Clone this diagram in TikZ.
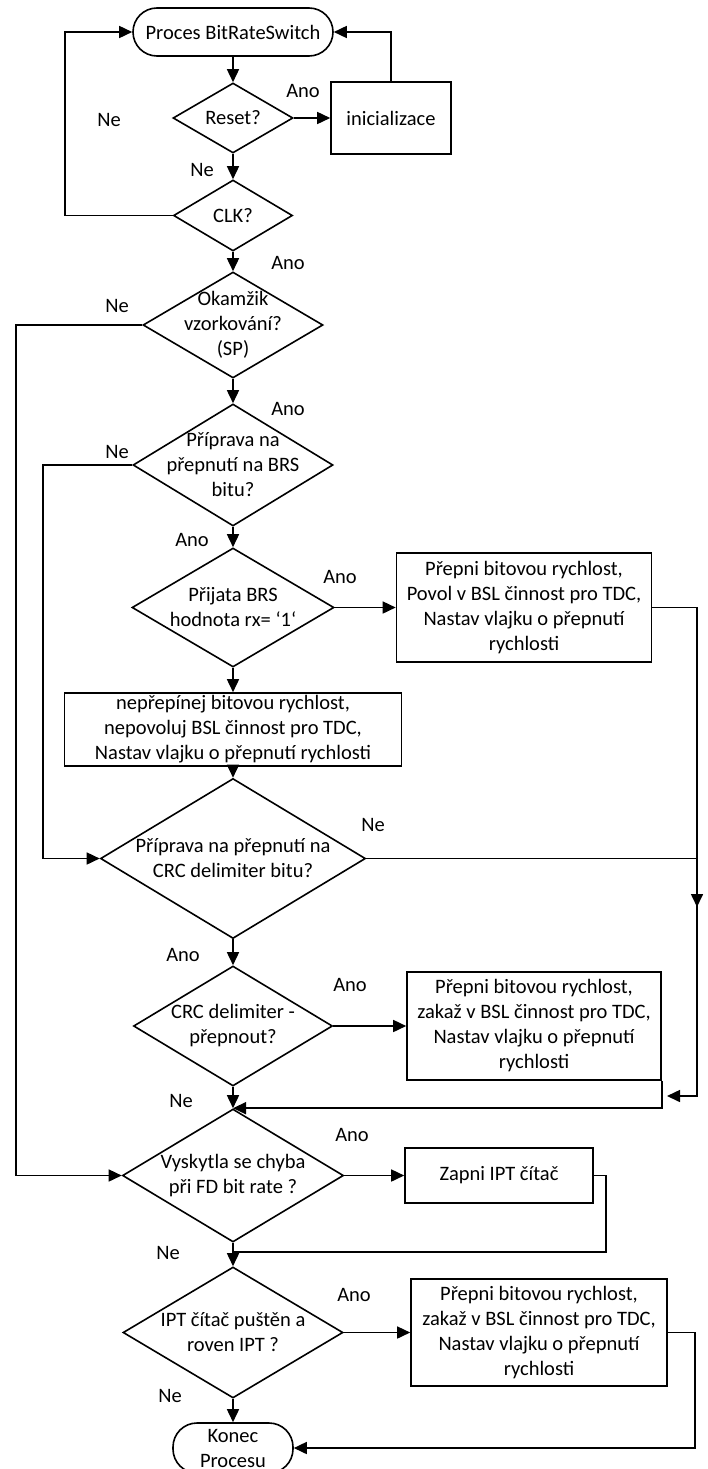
\documentclass[tikz,border=0pt]{standalone}
\usepackage{fontspec}
\setmainfont{Carlito}
\usetikzlibrary{arrows.meta,shapes.geometric}

\begin{document}
\begin{tikzpicture}[x=1pt, y=-1pt, line width=1.6pt,
    every node/.style={font=\fontsize{20.5}{25}\selectfont},
    term/.style={draw, rectangle, rounded corners=24pt, align=center, inner sep=0pt},
    box/.style={draw, rectangle, align=center, inner sep=0pt},
    decision/.style={draw, diamond, inner sep=0pt},
    dtext/.style={align=center, inner sep=0pt},
    arr/.style={-{Triangle[length=13pt,width=12pt]}},
    lbl/.style={inner sep=0pt}]
  \useasboundingbox (0,0) rectangle (707,1469);

  % Start and reset
  \node[term, minimum width=200pt, minimum height=48pt] (start) at (233,32) {Proces BitRateSwitch};
  \node[decision, minimum width=120pt, minimum height=70pt,
    label={[dtext]center:{Reset?}}] (reset) at (233,118) {};
  \node[box, minimum width=120pt, minimum height=72pt] (init) at (391,118) {inicializace};
  \node[decision, minimum width=119pt, minimum height=71pt,
    label={[dtext]center:{CLK?}}] (clk) at (233,215.5) {};

  % Sampling point and BRS bit
  \node[decision, minimum width=180pt, minimum height=106pt,
    label={[dtext]center:{Okamžik\\vzorkování?\\(SP)}}] (sample) at (233,325) {};
  \node[decision, minimum width=200pt, minimum height=122pt,
    label={[dtext]center:{Příprava na\\přepnutí na BRS\\bitu?}}] (brsprep) at (233,465) {};
  \node[decision, minimum width=202pt, minimum height=119pt,
    label={[dtext]center:{Přijata BRS\\hodnota rx= ‘1‘}}] (brsrx) at (233,607.5) {};
  \node[box, minimum width=255pt, minimum height=109pt] (sw1) at (524,607.5) {
    Přepni bitovou rychlost,\\
    Povol v BSL činnost pro TDC,\\
    Nastav vlajku o přepnutí\\
    rychlosti
  };
  \node[box, minimum width=337pt, minimum height=73pt] (keep) at (233,729.5) {
    nepřepínej bitovou rychlost,\\
    nepovoluj BSL činnost pro TDC,\\
    Nastav vlajku o přepnutí rychlosti
  };

  % CRC delimiter
  \node[decision, minimum width=265pt, minimum height=160pt,
    label={[dtext]center:{Příprava na přepnutí na\\CRC delimiter bitu?}}] (crcprep) at (233,858.5) {};
  \node[decision, minimum width=199pt, minimum height=120pt,
    label={[dtext]center:{CRC delimiter -\\přepnout?}}] (crcdel) at (233,1026) {};
  \node[box, minimum width=254pt, minimum height=108pt] (sw2) at (534,1026) {
    Přepni bitovou rychlost,\\
    zakaž v BSL činnost pro TDC,\\
    Nastav vlajku o přepnutí\\
    rychlosti
  };

  % Error and IPT
  \node[decision, minimum width=221pt, minimum height=133pt,
    label={[dtext]center:{Vyskytla se chyba\\při FD bit rate ?}}] (err) at (233,1175.5) {};
  \node[box, minimum width=188pt, minimum height=55pt] (ipton) at (499,1175.5) {Zapni IPT čítač};
  \node[decision, minimum width=220pt, minimum height=131pt,
    label={[dtext]center:{IPT čítač puštěn a\\roven IPT ?}}] (ipt) at (233,1332.5) {};
  \node[box, minimum width=256pt, minimum height=107pt] (sw3) at (539,1332.5) {
    Přepni bitovou rychlost,\\
    zakaž v BSL činnost pro TDC,\\
    Nastav vlajku o přepnutí\\
    rychlosti
  };
  \node[term, minimum width=120pt, minimum height=50pt] (stop) at (233,1448) {Konec\\Procesu};

  % Rails
  \coordinate (railclk) at (65,32);
  \coordinate (railsp) at (16,1175.5);
  \coordinate (railbrs) at (43,858.5);
  \coordinate (railcrc) at (697,907);
  \coordinate (railsw) at (697,1096);
  \coordinate (tapsw) at (667,1096);
  \coordinate (railipt) at (606,1252);
  \coordinate (mergeipt) at (233,1252);
  \coordinate (railend) at (695,1448);

  % Arrows
  \draw[arr] (start) -- (reset);
  \draw[arr] (reset) -- (init);
  \draw[arr] (init.north) |- (start.east);
  \draw[arr] (reset) -- (clk);
  \draw[arr] (clk.west) -| (railclk) -- (start.west);
  \draw[arr] (clk) -- (sample);
  \draw[arr] (sample.west) -| (railsp) -- (err.west);
  \draw[arr] (sample) -- (brsprep);
  \draw[arr] (brsprep.west) -| (railbrs) -- (crcprep.west);
  \draw[arr] (brsprep) -- (brsrx);
  \draw[arr] (brsrx) -- (sw1);
  \draw[arr] (brsrx) -- (keep);
  \draw[arr] (keep) -- (crcprep);
  \draw[arr] (sw1.east) -| (railsw) -- (tapsw);
  \draw[arr] (crcprep.east) -| (railcrc);
  \draw[arr] (crcprep) -- (crcdel);
  \draw[arr] (crcdel) -- (sw2);
  \draw[arr] (sw2.south east) |- (err.north);
  \draw[arr] (crcdel) -- (err);
  \draw[arr] (err) -- (ipton);
  \draw (ipton.east) -| (railipt) -- (mergeipt);
  \draw[arr] (err) -- (ipt);
  \draw[arr] (ipt) -- (sw3);
  \draw[arr] (sw3.east) -| (railend) -- (stop.east);
  \draw[arr] (ipt) -- (stop);

  % Labels
  \node[lbl] (ano1) at (303,91) {Ano};
  \node[lbl] (ne1) at (109,120) {Ne};
  \node[lbl] (ne2) at (202,170) {Ne};
  \node[lbl] (ano2) at (288,263) {Ano};
  \node[lbl] (ne3) at (117,306) {Ne};
  \node[lbl] (ano3) at (288,409) {Ano};
  \node[lbl] (ne4) at (117,452) {Ne};
  \node[lbl] (ano4) at (192,540) {Ano};
  \node[lbl] (ano5) at (340,577) {Ano};
  \node[lbl] (ne5) at (373,825) {Ne};
  \node[lbl] (ano6) at (183,955) {Ano};
  \node[lbl] (ano7) at (350,985) {Ano};
  \node[lbl] (ne6) at (181,1101) {Ne};
  \node[lbl] (ano8) at (352,1135) {Ano};
  \node[lbl] (ne7) at (168,1253) {Ne};
  \node[lbl] (ano9) at (354,1295) {Ano};
  \node[lbl] (ne8) at (170,1396) {Ne};
\end{tikzpicture}
\end{document}
